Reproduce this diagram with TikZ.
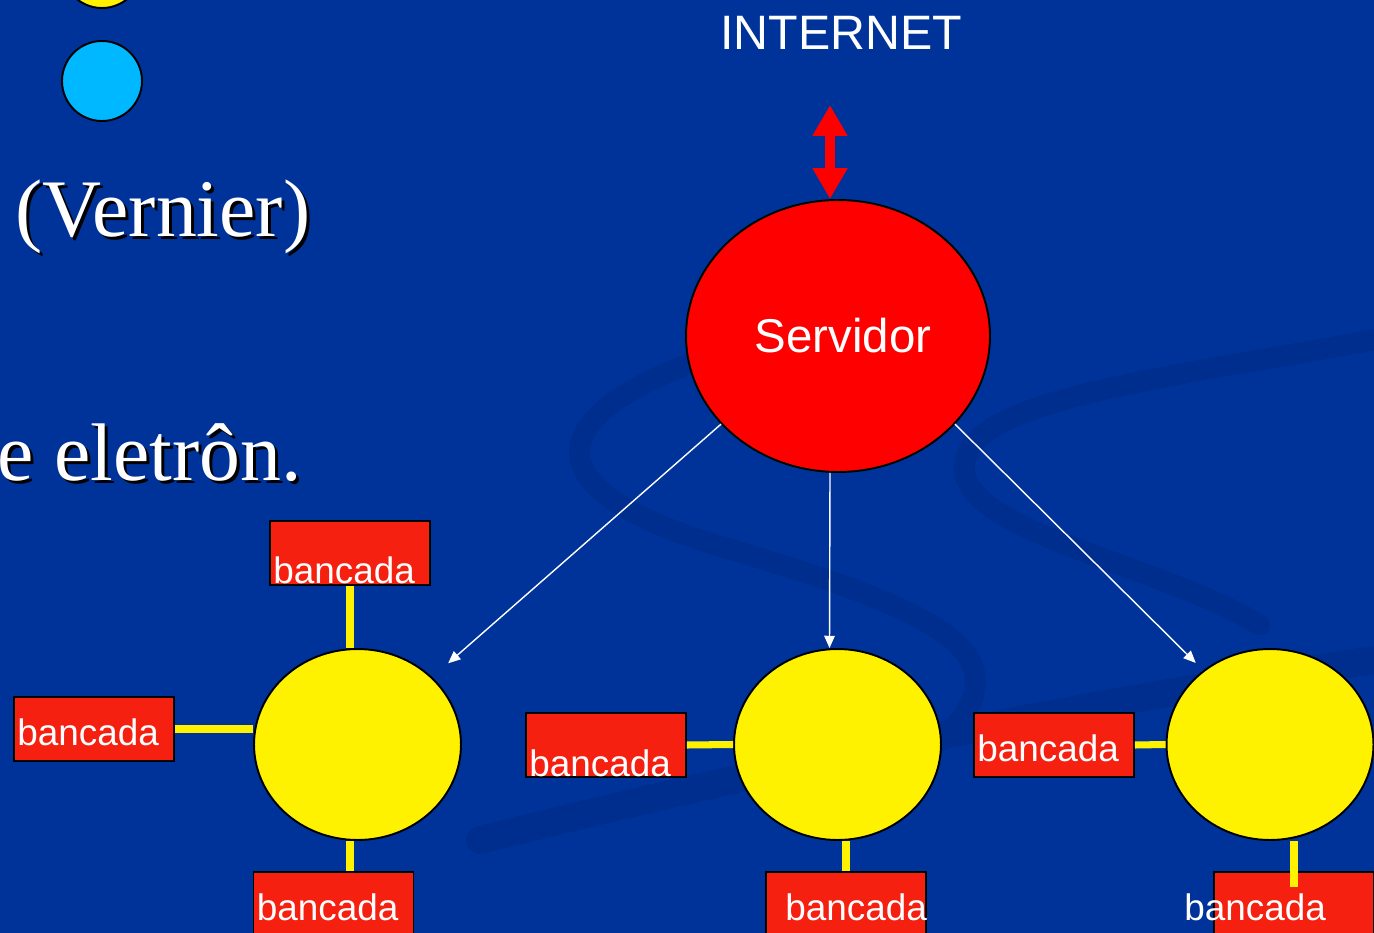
\documentclass[tikz,border=0pt]{standalone}
\usepackage{fontspec}
\setmainfont{Liberation Serif}
\setsansfont{Liberation Sans}
\usetikzlibrary{arrows.meta,shapes.geometric}

\definecolor{fundo}{RGB}{0,51,153}
\definecolor{azulonda}{RGB}{0,46,142}
\definecolor{bancred}{RGB}{245,32,16}
\definecolor{ciano}{RGB}{0,184,255}

\tikzset{
  servidor/.style={ellipse, draw=black, line width=1.1pt, fill=red, text=white,
    minimum width=6.08cm, minimum height=5.44cm, inner sep=0pt,
    font=\sffamily\fontsize{27}{27}\selectfont},
  no/.style={ellipse, draw=black, line width=1.1pt, fill=yellow,
    minimum width=4.14cm, minimum height=3.82cm, inner sep=0pt},
  bancbox/.style={draw=black, line width=1.1pt, fill=bancred,
    minimum width=3.2cm, minimum height=1.28cm, inner sep=0pt},
  banctext/.style={text=white, font=\sffamily\fontsize{21}{21}\selectfont,
    inner sep=0pt, anchor=base west},
  fio/.style={yellow, line width=4pt},
  seta/.style={white, line width=0.8pt, -{Triangle[width=6pt,length=7pt]}},
  dupla/.style={red, line width=6.2pt,
    {Triangle[width=18.8pt,length=17.6pt]}-{Triangle[width=18.8pt,length=17.6pt]}},
  titulo/.style={font=\fontsize{46.5}{46.5}\selectfont, inner sep=0pt},
  onda/.style={azulonda, line width=12pt, line cap=round},
}

\begin{document}
\begin{tikzpicture}[x=0.02cm, y=-0.02cm]
  \useasboundingbox (0,0) rectangle (1374,933);
  \clip (0,0) rectangle (1374,933);
  \fill[fundo] (0,0) rectangle (1374,933);

  % fundo com a onda
  \draw[onda] (700,360) .. controls (560,410) and (520,480) .. (700,540)
    .. controls (900,600) and (1020,640) .. (960,720)
    .. controls (930,760) and (870,780) .. (800,800);
  \draw[onda] (1374,340) .. controls (1150,380) and (980,400) .. (965,460)
    .. controls (950,530) and (1150,560) .. (1260,625);
  \draw[onda, line width=16pt] (480,840) .. controls (800,760) and (1100,700) .. (1374,660);

  % restos do slide
  \filldraw[fill=yellow, draw=black, line width=1.1pt] (102,-32) circle (40);
  \filldraw[fill=ciano, draw=black, line width=1.1pt] (102,81) circle (40);
  \node[titulo, text=black, anchor=base west] at (18,239) {(Vernier)};
  \node[titulo, text=white, anchor=base west] (vernier) at (15,236) {(Vernier)};
  \node[titulo, text=black, anchor=base east] at (305,483) {e eletrôn.};
  \node[titulo, text=white, anchor=base east] (eletron) at (302,480) {e eletrôn.};

  % servidor e internet
  \node[text=white, font=\sffamily\fontsize{27.5}{27.5}\selectfont, inner sep=0pt]
    (internet) at (841,33) {INTERNET};
  \node[servidor] (serv) at (838,336) {\hspace{0.2cm}Servidor};
  \coordinate (portal) at (830,105);
  \draw[dupla] (portal) -- (portal |- serv.north);

  % hubs
  \node[no] (noA) at (357.5,744.5) {};
  \node[no] (noB) at (837.5,744.5) {};
  \node[no] (noC) at (1270,744.5) {};

  % bancadas
  \node[bancbox] (bA1) at (350,553) {};
  \node[bancbox] (bA2) at (94,729) {};
  \node[bancbox] (bA3) at (333.5,904) {};
  \node[bancbox] (bB1) at (606,745) {};
  \node[bancbox] (bB2) at (846,904) {};
  \node[bancbox] (bC1) at (1054,745) {};
  \node[bancbox] (bC2) at (1294,904) {};

  \node[banctext] (tA1) at ([shift={(0.08cm,0.04cm)}]bA1.south west) {bancada};
  \node[banctext] (tA2) at ([shift={(0.08cm,0.32cm)}]bA2.south west) {bancada};
  \node[banctext] (tA3) at ([shift={(0.08cm,-0.98cm)}]bA3.north west) {bancada};
  \node[banctext] (tB1) at ([shift={(0.08cm,0.02cm)}]bB1.south west) {bancada};
  \node[banctext] (tB2) at ([shift={(0.40cm,-0.98cm)}]bB2.north west) {bancada};
  \node[banctext] (tC1) at ([shift={(0.08cm,0.32cm)}]bC1.south west) {bancada};
  \node[banctext] (tC2) at ([shift={(-0.58cm,-0.98cm)}]bC2.north west) {bancada};

  % ligacoes amarelas
  \draw[fio] (bA1.south) -- (bA1.south |- noA.north);
  \draw[fio] (bA2.east) -- (bA2.east -| noA.west);
  \draw[fio] (bA1.south |- noA.south) -- (bA1.south |- bA3.north);
  \draw[fio] (bB1.east) -- (noB.west);
  \draw[fio] (bB2.north) -- (bB2.north |- noB.south);
  \draw[fio] (bC1.east) -- (noC.west);
  \draw[fio] (bC2.north |- noC.south) -- ([yshift=-0.32cm]bC2.north);

  % setas do servidor
  \draw[seta, shorten >=12pt] (serv.217) -- (noA.42);
  \draw[seta] ([xshift=-0.16cm]serv.south) -- ([xshift=-0.16cm]noB.north);
  \draw[seta, shorten >=6pt] (serv.323) -- (noC.132);
\end{tikzpicture}
\end{document}
